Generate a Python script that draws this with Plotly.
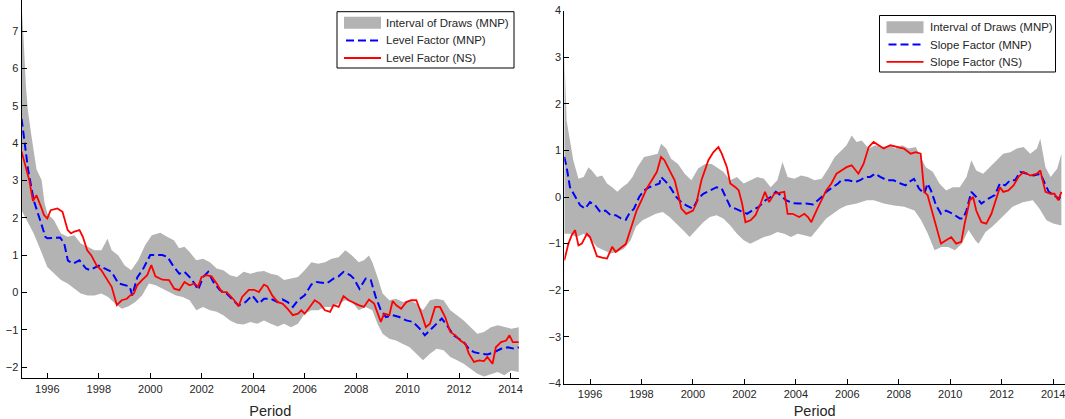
import plotly.graph_objects as go

# ---------------- Left panel: Level factor ----------------
L_UP_YR = [1995.0, 1995.04, 1995.08, 1995.17, 1995.24, 1995.38, 1995.58, 1995.78, 1995.89, 1996.0, 1996.26, 1996.53,
           1996.79, 1997.05, 1997.3, 1997.57, 1997.83, 1998.1, 1998.34, 1998.5, 1998.76, 1999.0, 1999.26, 1999.53,
           1999.8, 2000.06, 2000.39, 2000.65, 2000.92, 2001.12, 2001.33, 2001.53, 2001.79, 2002.05, 2002.32, 2002.58,
           2002.84, 2003.1, 2003.37, 2003.63, 2003.89, 2004.16, 2004.42, 2004.68, 2004.95, 2005.2, 2005.47, 2005.74,
           2006.0, 2006.26, 2006.53, 2006.79, 2007.05, 2007.32, 2007.58, 2007.84, 2008.1, 2008.3, 2008.5, 2008.63,
           2008.83, 2009.03, 2009.29, 2009.55, 2009.82, 2010.08, 2010.34, 2010.6, 2010.87, 2011.13, 2011.4, 2011.66,
           2011.92, 2012.18, 2012.45, 2012.71, 2012.97, 2013.24, 2013.5, 2013.76, 2014.03, 2014.32]
L_UP = [7.7, 7.3, 6.75, 5.5, 4.9, 4.2, 3.3, 3.0, 2.4, 2.11, 1.93, 1.58,
        1.49, 1.53, 1.31, 1.22, 1.13, 1.13, 1.44, 1.13, 0.99, 0.73, 0.59, 0.86,
        1.26, 1.53, 1.6, 1.49, 1.4, 1.18, 1.22, 1.08, 0.86, 0.9, 0.81, 0.64,
        0.59, 0.46, 0.41, 0.55, 0.5, 0.55, 0.57, 0.5, 0.46, 0.33, 0.37, 0.41,
        0.59, 0.81, 0.77, 0.81, 0.9, 0.94, 1.13, 0.99, 0.81, 0.86, 0.99, 0.81,
        0.41, -0.03, -0.21, -0.17, -0.26, -0.21, -0.3, -0.48, -0.21, -0.17, -0.21, -0.48,
        -0.61, -0.75, -0.93, -1.11, -1.06, -0.93, -0.88, -0.93, -0.97, -0.93]

L_LO_YR = [1995.0, 1995.2, 1995.47, 1995.74, 1996.0, 1996.26, 1996.53, 1996.79, 1997.05, 1997.3, 1997.57, 1997.83,
           1998.1, 1998.36, 1998.63, 1998.89, 1999.16, 1999.42, 1999.68, 1999.95, 2000.21, 2000.47, 2000.73, 2001.0,
           2001.26, 2001.53, 2001.79, 2002.05, 2002.32, 2002.58, 2002.84, 2003.1, 2003.37, 2003.63, 2003.89, 2004.16,
           2004.42, 2004.68, 2004.95, 2005.2, 2005.47, 2005.74, 2006.0, 2006.26, 2006.53, 2006.79, 2007.05, 2007.32,
           2007.58, 2007.84, 2008.1, 2008.37, 2008.63, 2008.83, 2009.03, 2009.29, 2009.55, 2009.82, 2010.08, 2010.34,
           2010.6, 2010.87, 2011.13, 2011.4, 2011.66, 2011.92, 2012.18, 2012.45, 2012.71, 2012.97, 2013.24, 2013.5,
           2013.76, 2014.03, 2014.32]
L_LO = [2.2, 1.93, 1.58, 1.13, 0.68, 0.5, 0.33, 0.24, 0.1, -0.03, -0.08, -0.08,
        -0.03, -0.12, -0.3, -0.44, -0.37, -0.26, -0.08, 0.24, 0.19, 0.1, 0.01, -0.08,
        -0.12, -0.21, -0.48, -0.39, -0.48, -0.52, -0.61, -0.75, -0.84, -0.86, -0.79, -0.84,
        -0.75, -0.84, -0.91, -0.84, -0.93, -0.84, -0.57, -0.48, -0.48, -0.39, -0.39, -0.3,
        -0.21, -0.26, -0.48, -0.39, -0.48, -0.84, -1.11, -1.24, -1.29, -1.38, -1.47, -1.64,
        -1.82, -1.64, -1.51, -1.55, -1.73, -1.82, -1.91, -2.04, -2.18, -2.25, -2.18, -2.13,
        -2.22, -2.09, -2.13]

L_MNP_YR = [1995.0, 1995.1, 1995.25, 1995.47, 1995.74, 1995.93, 1996.0, 1996.5, 1996.66, 1996.8, 1997.0, 1997.25,
            1997.5, 1997.65, 1998.0, 1998.25, 1998.5, 1998.76, 1999.0, 1999.2, 1999.3, 1999.5, 1999.7, 2000.0,
            2000.47, 2000.67, 2000.87, 2001.13, 2001.33, 2001.53, 2001.72, 2001.86, 2002.05, 2002.25, 2002.45, 2002.71,
            2002.97, 2003.24, 2003.43, 2003.7, 2003.96, 2004.22, 2004.42, 2004.68, 2004.95, 2005.14, 2005.34, 2005.54,
            2005.74, 2006.0, 2006.26, 2006.46, 2006.66, 2006.86, 2007.12, 2007.32, 2007.51, 2007.78, 2007.91, 2008.13,
            2008.37, 2008.57, 2008.76, 2008.96, 2009.16, 2009.42, 2009.68, 2009.95, 2010.21, 2010.47, 2010.67, 2010.87,
            2011.13, 2011.33, 2011.53, 2011.79, 2011.99, 2012.18, 2012.38, 2012.58, 2012.84, 2013.1, 2013.37, 2013.63,
            2013.89, 2014.16, 2014.32]
L_MNP = [4.65, 4.1, 3.3, 2.47, 1.85, 1.48, 1.45, 1.47, 1.3, 0.85, 0.77, 0.86,
         0.64, 0.6, 0.72, 0.64, 0.55, 0.24, 0.19, 0.16, -0.08, 0.41, 0.6, 1.0,
         1.0, 0.95, 0.73, 0.5, 0.55, 0.41, 0.24, 0.07, 0.41, 0.55, 0.28, 0.06,
         -0.03, -0.21, -0.35, -0.26, -0.08, -0.3, -0.17, -0.17, -0.26, -0.19, -0.26, -0.39,
         -0.21, -0.08, 0.21, 0.28, 0.25, 0.24, 0.37, 0.43, 0.55, 0.46, 0.37, 0.1,
         0.37, 0.33, -0.12, -0.48, -0.66, -0.61, -0.66, -0.75, -0.79, -0.97, -1.15, -1.02,
         -0.84, -0.7, -0.88, -1.15, -1.24, -1.33, -1.51, -1.6, -1.64, -1.66, -1.6, -1.51,
         -1.47, -1.51, -1.47]

L_NS_YR = [1995.0, 1995.15, 1995.3, 1995.44, 1995.58, 1995.75, 1995.87, 1996.0, 1996.13, 1996.39, 1996.59, 1996.79,
           1996.92, 1997.05, 1997.25, 1997.38, 1997.55, 1997.71, 1997.91, 1998.1, 1998.3, 1998.5, 1998.7, 1998.89,
           1999.09, 1999.22, 1999.36, 1999.49, 1999.68, 1999.88, 2000.04, 2000.2, 2000.47, 2000.73, 2000.93, 2001.13,
           2001.33, 2001.53, 2001.72, 2001.86, 2001.99, 2002.18, 2002.38, 2002.58, 2002.78, 2002.97, 2003.24, 2003.43,
           2003.57, 2003.83, 2004.03, 2004.22, 2004.42, 2004.55, 2004.74, 2004.95, 2005.14, 2005.34, 2005.54, 2005.74,
           2005.87, 2006.0, 2006.2, 2006.39, 2006.59, 2006.79, 2006.99, 2007.12, 2007.32, 2007.51, 2007.71, 2007.91,
           2008.1, 2008.3, 2008.5, 2008.7, 2008.83, 2008.96, 2009.09, 2009.29, 2009.42, 2009.55, 2009.75, 2009.95,
           2010.14, 2010.34, 2010.54, 2010.71, 2010.87, 2011.07, 2011.26, 2011.46, 2011.66, 2011.86, 2012.05, 2012.25,
           2012.38, 2012.58, 2012.78, 2012.97, 2013.1, 2013.3, 2013.43, 2013.63, 2013.83, 2013.96, 2014.09, 2014.32]
L_NS = [3.77, 3.35, 3.0, 2.45, 2.6, 2.3, 2.07, 1.98, 2.2, 2.25, 2.16, 1.67,
        1.58, 1.63, 1.67, 1.49, 1.13, 0.99, 0.73, 0.59, 0.37, 0.15, -0.34, -0.21,
        -0.17, -0.08, -0.03, 0.19, 0.33, 0.46, 0.73, 0.43, 0.34, 0.33, 0.1, 0.06,
        0.28, 0.19, 0.24, 0.15, 0.41, 0.46, 0.43, 0.24, 0.01, 0.01, -0.19, -0.37,
        -0.12, 0.07, 0.07, 0.01, 0.21, 0.16, -0.08, -0.26, -0.3, -0.44, -0.61, -0.57,
        -0.48, -0.57, -0.39, -0.21, -0.3, -0.48, -0.52, -0.34, -0.39, -0.1, -0.21, -0.28,
        -0.34, -0.39, -0.19, -0.3, -0.57, -0.79, -0.57, -0.61, -0.23, -0.34, -0.44, -0.26,
        -0.21, -0.21, -0.57, -0.93, -0.84, -0.39, -0.39, -0.66, -1.06, -1.15, -1.29, -1.38,
        -1.64, -1.86, -1.82, -1.84, -1.73, -1.91, -1.47, -1.33, -1.29, -1.15, -1.33, -1.33]

# ---------------- Right panel: Slope factor ----------------
R_UP_YR = [1995.0, 1995.09, 1995.22, 1995.35, 1995.55, 1995.75, 1995.94, 1996.07, 1996.27, 1996.47, 1996.66, 1996.86,
           1997.06, 1997.25, 1997.45, 1997.65, 1997.84, 1998.1, 1998.36, 1998.63, 1998.76, 1998.96, 1999.15, 1999.42,
           1999.68, 1999.94, 2000.2, 2000.47, 2000.73, 2000.92, 2001.18, 2001.45, 2001.71, 2001.97, 2002.23, 2002.5,
           2002.76, 2003.02, 2003.28, 2003.48, 2003.68, 2003.94, 2004.2, 2004.46, 2004.73, 2005.0, 2005.26, 2005.51,
           2005.77, 2005.97, 2006.17, 2006.36, 2006.56, 2006.83, 2007.08, 2007.35, 2007.61, 2007.87, 2008.13, 2008.39,
           2008.66, 2008.85, 2009.05, 2009.32, 2009.58, 2009.84, 2010.1, 2010.37, 2010.63, 2010.82, 2011.01, 2011.28,
           2011.54, 2011.8, 2012.06, 2012.33, 2012.59, 2012.85, 2013.11, 2013.37, 2013.5, 2013.7, 2013.9, 2014.16, 2014.32]
R_UP = [3.1, 1.64, 1.21, 0.79, 0.39, 0.43, 0.64, 0.57, 0.43, 0.46, 0.29, 0.21,
        0.11, 0.21, 0.29, 0.43, 0.64, 0.86, 0.89, 0.93, 1.14, 1.04, 0.82, 0.71,
        0.5, 0.36, 0.61, 0.71, 0.71, 0.64, 0.54, 0.36, 0.43, 0.29, 0.36, 0.43,
        0.39, 0.21, 0.36, 0.75, 0.43, 0.39, 0.46, 0.43, 0.36, 0.39, 0.61, 0.86,
        1.0, 1.11, 1.32, 1.18, 1.21, 1.04, 1.11, 1.07, 1.11, 1.04, 1.11, 1.04,
        1.07, 0.86, 0.64, 0.54, 0.29, 0.14, 0.21, 0.21, 0.43, 0.79, 0.57, 0.5,
        0.64, 0.79, 0.93, 0.96, 1.04, 1.07, 0.93, 1.04, 1.25, 0.64, 0.43, 0.61, 0.93]

R_LO_YR = [1995.0, 1995.22, 1995.48, 1995.75, 1996.0, 1996.27, 1996.53, 1996.8, 1997.06, 1997.32, 1997.58, 1997.78,
           1998.04, 1998.3, 1998.56, 1998.83, 1999.09, 1999.35, 1999.61, 1999.87, 2000.13, 2000.4, 2000.66, 2000.92,
           2001.18, 2001.45, 2001.71, 2001.97, 2002.23, 2002.5, 2002.76, 2003.02, 2003.28, 2003.55, 2003.81, 2004.07,
           2004.33, 2004.59, 2004.92, 2005.18, 2005.45, 2005.71, 2005.97, 2006.37, 2006.76, 2007.03, 2007.42, 2007.82,
           2008.21, 2008.61, 2008.87, 2009.13, 2009.39, 2009.66, 2009.92, 2010.18, 2010.45, 2010.71, 2010.97, 2011.1,
           2011.37, 2011.63, 2011.89, 2012.16, 2012.42, 2012.82, 2013.21, 2013.47, 2013.74, 2014.0, 2014.32]
R_LO = [-0.79, -0.79, -0.86, -0.79, -0.89, -1.07, -1.14, -1.21, -1.18, -1.11, -0.93, -0.64,
        -0.5, -0.43, -0.36, -0.32, -0.43, -0.57, -0.71, -0.86, -0.71, -0.54, -0.43, -0.39,
        -0.46, -0.61, -0.79, -0.93, -1.0, -0.93, -0.86, -0.82, -0.75, -0.79, -0.86, -0.79,
        -0.82, -0.86, -0.64, -0.46, -0.36, -0.25, -0.18, -0.14, -0.07, -0.07, -0.14, -0.18,
        -0.21, -0.29, -0.5, -0.79, -1.14, -1.07, -1.07, -1.14, -1.0, -0.71, -0.93, -1.0,
        -0.75, -0.64, -0.5, -0.36, -0.21, -0.11, -0.07, -0.25, -0.5, -0.57, -0.61]

R_MNP_YR = [1995.0, 1995.09, 1995.22, 1995.42, 1995.62, 1995.81, 1996.0, 1996.2, 1996.4, 1996.6, 1996.8, 1997.0,
            1997.2, 1997.39, 1997.52, 1997.71, 1997.91, 1998.1, 1998.3, 1998.5, 1998.7, 1998.76, 1998.96, 1999.15,
            1999.35, 1999.55, 1999.74, 2000.0, 2000.2, 2000.4, 2000.66, 2000.92, 2001.12, 2001.32, 2001.45, 2001.65,
            2001.91, 2002.1, 2002.3, 2002.56, 2002.82, 2003.02, 2003.22, 2003.41, 2003.61, 2003.87, 2004.13, 2004.4,
            2004.67, 2005.0, 2005.18, 2005.38, 2005.64, 2005.77, 2006.04, 2006.3, 2006.5, 2006.7, 2006.89, 2007.08,
            2007.28, 2007.54, 2007.8, 2008.07, 2008.26, 2008.39, 2008.59, 2008.79, 2008.99, 2009.12, 2009.25, 2009.45,
            2009.64, 2009.84, 2010.1, 2010.37, 2010.5, 2010.63, 2010.82, 2011.01, 2011.21, 2011.47, 2011.73, 2011.93,
            2012.13, 2012.33, 2012.52, 2012.72, 2012.98, 2013.24, 2013.5, 2013.63, 2013.83, 2014.03, 2014.23, 2014.32]
R_MNP = [0.86, 0.64, 0.21, 0.0, -0.18, -0.25, -0.11, -0.18, -0.32, -0.29, -0.39, -0.39,
         -0.46, -0.49, -0.36, -0.25, 0.0, 0.14, 0.21, 0.25, 0.29, 0.43, 0.32, 0.18,
         0.0, -0.11, -0.18, -0.25, -0.04, 0.07, 0.14, 0.21, 0.18, -0.07, -0.21, -0.25,
         -0.32, -0.36, -0.29, -0.21, -0.07, 0.0, 0.11, 0.04, -0.07, -0.13, -0.14, -0.14,
         -0.16, 0.0, 0.11, 0.18, 0.29, 0.36, 0.36, 0.32, 0.36, 0.43, 0.43, 0.5,
         0.43, 0.36, 0.36, 0.29, 0.25, 0.32, 0.39, 0.18, 0.07, 0.29, 0.14, -0.18,
         -0.36, -0.29, -0.36, -0.46, -0.46, -0.29, 0.11, 0.0, -0.14, -0.04, 0.04, 0.29,
         0.25, 0.36, 0.36, 0.54, 0.5, 0.46, 0.5, 0.36, 0.11, 0.04, -0.04, 0.07]

R_NS_YR = [1995.0, 1995.16, 1995.29, 1995.42, 1995.55, 1995.68, 1995.88, 1996.0, 1996.14, 1996.27, 1996.47, 1996.66,
           1996.86, 1997.0, 1997.2, 1997.39, 1997.52, 1997.68, 1997.81, 1998.0, 1998.2, 1998.4, 1998.6, 1998.76,
           1998.89, 1999.09, 1999.29, 1999.42, 1999.55, 1999.74, 2000.0, 2000.13, 2000.33, 2000.6, 2000.79, 2000.99,
           2001.12, 2001.32, 2001.45, 2001.65, 2001.78, 2001.91, 2002.04, 2002.24, 2002.43, 2002.63, 2002.8, 2002.96,
           2003.16, 2003.35, 2003.55, 2003.68, 2003.87, 2004.13, 2004.33, 2004.47, 2004.6, 2004.8, 2005.0, 2005.18,
           2005.38, 2005.58, 2005.77, 2005.97, 2006.17, 2006.43, 2006.63, 2006.83, 2007.02, 2007.22, 2007.41, 2007.67,
           2007.93, 2008.2, 2008.46, 2008.66, 2008.85, 2008.99, 2009.12, 2009.32, 2009.51, 2009.64, 2009.84, 2010.04,
           2010.23, 2010.43, 2010.56, 2010.76, 2010.89, 2011.01, 2011.21, 2011.4, 2011.6, 2011.8, 2011.93, 2012.06,
           2012.26, 2012.46, 2012.65, 2012.85, 2013.11, 2013.37, 2013.5, 2013.7, 2013.9, 2014.05, 2014.2, 2014.32]
R_NS = [-1.36, -1.0, -0.82, -0.71, -1.04, -1.0, -0.79, -0.86, -1.07, -1.27, -1.3, -1.32,
        -1.07, -1.18, -1.09, -1.01, -0.79, -0.5, -0.29, -0.07, 0.18, 0.36, 0.54, 0.86,
        0.79, 0.57, 0.36, 0.07, -0.25, -0.36, -0.29, -0.14, 0.36, 0.79, 0.96, 1.07,
        0.93, 0.64, 0.29, 0.21, 0.14, -0.14, -0.54, -0.5, -0.39, -0.14, 0.11, -0.11,
        0.07, 0.09, 0.11, -0.36, -0.36, -0.43, -0.36, -0.43, -0.54, -0.29, -0.07, 0.14,
        0.29, 0.5, 0.57, 0.64, 0.68, 0.5, 0.71, 1.07, 1.18, 1.11, 1.04, 1.11,
        1.07, 1.04, 0.93, 0.96, 0.93, 0.11, 0.04, -0.36, -0.79, -1.0, -0.93, -0.86,
        -1.0, -0.96, -0.57, -0.07, 0.0, -0.29, -0.54, -0.57, -0.36, 0.0, 0.21, 0.11,
        0.14, 0.25, 0.43, 0.54, 0.46, 0.5, 0.57, 0.11, 0.07, 0.07, -0.07, 0.11]

X_TICKS = [1996, 1998, 2000, 2002, 2004, 2006, 2008, 2010, 2012, 2014]
L_Y_TICKS = [-2, -1, 0, 1, 2, 3, 4, 5, 6, 7]
R_Y_TICKS = [-4, -3, -2, -1, 0, 1, 2, 3, 4]

LEFT_NAMES = ["Interval of Draws (MNP)", "Level Factor (MNP)", "Level Factor (NS)"]
RIGHT_NAMES = ["Interval of Draws (MNP)", "Slope Factor (MNP)", "Slope Factor (NS)"]

GRAY = "#b3b3b3"
BLUE = "#0000ff"
RED = "#ff0000"
FONT = "Liberation Sans, Arial, Helvetica, sans-serif"
TXT = "#262626"
DASH = "8px,4px"

W, H = 1065, 419

fig = go.Figure()


def add_panel(up_x, up_y, lo_x, lo_y, m_x, m_y, n_x, n_y, names, xa, ya):
    fig.add_trace(go.Scatter(
        x=list(up_x) + list(lo_x)[::-1], y=list(up_y) + list(lo_y)[::-1],
        fill="toself", fillcolor=GRAY, line=dict(width=0, color=GRAY),
        mode="lines", name=names[0], xaxis=xa, yaxis=ya, hoverinfo="skip"))
    fig.add_trace(go.Scatter(
        x=m_x, y=m_y, mode="lines", name=names[1],
        line=dict(color=BLUE, width=2, dash=DASH), xaxis=xa, yaxis=ya))
    fig.add_trace(go.Scatter(
        x=n_x, y=n_y, mode="lines", name=names[2],
        line=dict(color=RED, width=1.8), xaxis=xa, yaxis=ya))


add_panel(L_UP_YR, L_UP, L_LO_YR, L_LO, L_MNP_YR, L_MNP, L_NS_YR, L_NS, LEFT_NAMES, "x", "y")
add_panel(R_UP_YR, R_UP, R_LO_YR, R_LO, R_MNP_YR, R_MNP, R_NS_YR, R_NS, RIGHT_NAMES, "x2", "y2")

# ---- legends drawn as boxed keys (paper pixel geometry) ----
shapes = []
annotations = []


def px_x(v):
    return v / W


def px_y(v):
    return 1 - v / H


def add_legend(x0, y0, x1, y1, sym_x0, sym_x1, text_x, rows, names):
    shapes.append(dict(type="rect", xref="paper", yref="paper", x0=px_x(x0), x1=px_x(x1),
                       y0=px_y(y1), y1=px_y(y0), line=dict(color="#000000", width=1),
                       fillcolor="white", layer="above"))
    r0, r1, r2 = rows
    shapes.append(dict(type="rect", xref="paper", yref="paper", x0=px_x(sym_x0), x1=px_x(sym_x1),
                       y0=px_y(r0 + 6), y1=px_y(r0 - 6), line=dict(width=0), fillcolor=GRAY, layer="above"))
    shapes.append(dict(type="line", xref="paper", yref="paper", x0=px_x(sym_x0 + 2), x1=px_x(sym_x1),
                       y0=px_y(r1), y1=px_y(r1), line=dict(color=BLUE, width=2, dash=DASH), layer="above"))
    shapes.append(dict(type="line", xref="paper", yref="paper", x0=px_x(sym_x0), x1=px_x(sym_x1),
                       y0=px_y(r2), y1=px_y(r2), line=dict(color=RED, width=1.8), layer="above"))
    for r, name in zip(rows, names):
        annotations.append(dict(text=name, xref="paper", yref="paper", x=px_x(text_x), y=px_y(r),
                                xanchor="left", yanchor="middle", showarrow=False,
                                font=dict(family=FONT, size=11.5, color=TXT)))


add_legend(337, 11.7, 514, 68, 344, 381, 384, (22.7, 40.5, 58.0), LEFT_NAMES)
add_legend(879.5, 15.5, 1055.5, 72, 886.5, 923.5, 927.5, (27.3, 44.6, 61.8), RIGHT_NAMES)

axis_common = dict(showline=True, linecolor="#000000", linewidth=1, ticks="inside", ticklen=5,
                   tickcolor="#000000", showgrid=False, zeroline=False, mirror=False,
                   tickfont=dict(family=FONT, size=11, color=TXT), automargin=False)

fig.update_layout(
    width=W, height=H,
    margin=dict(l=0, r=0, t=0, b=0, pad=0, autoexpand=False),
    paper_bgcolor="white", plot_bgcolor="white",
    font=dict(family=FONT, size=11, color=TXT),
    showlegend=False,
    xaxis=dict(domain=[21.6 / W, 519 / W], range=[1995, 2014.33], tickvals=X_TICKS,
               title=dict(text="Period", font=dict(size=14.5, family=FONT, color=TXT)),
               anchor="y", ticklabeloverflow="allow", **axis_common),
    yaxis=dict(domain=[1 - 378.3 / H, 1.0], range=[-2.30, 7.83], tickvals=L_Y_TICKS,
               anchor="x", **axis_common),
    xaxis2=dict(domain=[564.3 / W, 1.0], range=[1995, 2014.46], tickvals=X_TICKS,
                title=dict(text="Period", font=dict(size=14.5, family=FONT, color=TXT)),
                anchor="y2", ticklabeloverflow="allow", **axis_common),
    yaxis2=dict(domain=[1 - 383.5 / H, 1 - 10.5 / H], range=[-4, 4], tickvals=R_Y_TICKS,
                anchor="x2", **axis_common),
    shapes=shapes,
    annotations=annotations,
)

fig.write_html("out.html", config={"responsive": False, "displayModeBar": False},
               post_script="document.body.style.margin='0px';document.body.style.padding='0px';"
                           "document.body.style.overflow='hidden';")
